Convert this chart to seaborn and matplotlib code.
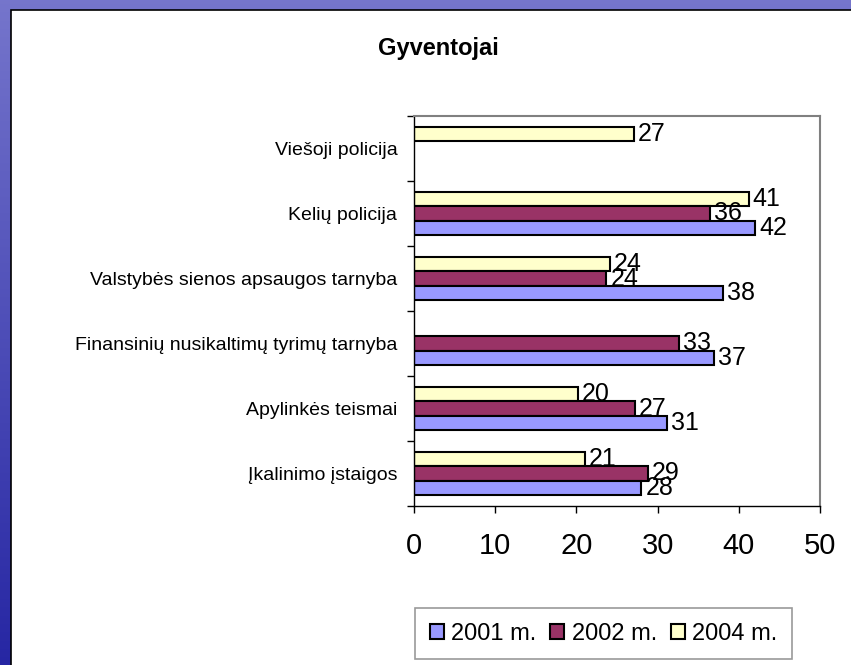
import numpy as np
import pandas as pd
import matplotlib
matplotlib.use("Agg")
import matplotlib.pyplot as plt
import seaborn as sns
from matplotlib.patches import Rectangle

# categories top to bottom
categories = [
    "Viešoji policija",
    "Kelių policija",
    "Valstybės sienos apsaugos tarnyba",
    "Finansinių nusikaltimų tyrimų tarnyba",
    "Apylinkės teismai",
    "Įkalinimo įstaigos",
]
years = ["2001 m.", "2002 m.", "2004 m."]

# NaN = no bar for that year
values_2001 = [np.nan, 42.0, 38.0, 36.9, 31.1, 28.0]
values_2002 = [np.nan, 36.4, 23.7, 32.6, 27.2, 28.8]
values_2004 = [27.1, 41.2, 24.1, np.nan, 20.2, 21.0]

colors = {"2001 m.": "#9999FF", "2002 m.": "#993366", "2004 m.": "#FFFFCC"}

rows = []
for year, vals in zip(years, [values_2001, values_2002, values_2004]):
    for cat, v in zip(categories, vals):
        if not np.isnan(v):
            rows.append({"category": cat, "year": year, "value": v})
df = pd.DataFrame(rows)

sns.set_style("white")
plt.rcParams["font.family"] = ["Liberation Sans", "DejaVu Sans"]
plt.rcParams["text.color"] = "black"
plt.rcParams["xtick.color"] = "black"
plt.rcParams["ytick.color"] = "black"

W, H = 851, 665
fig = plt.figure(figsize=(W / 100, H / 100), dpi=100)

# blue gradient background with white panel
bg = fig.add_axes([0, 0, 1, 1], zorder=-10)
grad = np.linspace(0, 1, 256).reshape(-1, 1)
top = np.array([0.46, 0.46, 0.80])
bot = np.array([0.15, 0.15, 0.64])
img = top[None, None, :] * (1 - grad[..., None]) + bot[None, None, :] * grad[..., None]
bg.imshow(img, aspect="auto", extent=[0, 1, 0, 1])
bg.add_patch(Rectangle((11 / W, -0.01), 1, 1 - 10 / H + 0.01, facecolor="white",
                       edgecolor="black", linewidth=1.2))
bg.set_xlim(0, 1)
bg.set_ylim(0, 1)
bg.axis("off")

ax = fig.add_axes([414 / W, 1 - 506 / H, (820 - 414) / W, (506 - 116) / H])
sns.barplot(data=df, x="value", y="category", hue="year", order=categories,
            hue_order=["2004 m.", "2002 m.", "2001 m."], palette=colors,
            orient="h", width=0.67, saturation=1, edgecolor="black",
            linewidth=1.5, legend=False, ax=ax, errorbar=None)

for cont in ax.containers:
    ax.bar_label(cont, fmt="%.0f", padding=3, fontsize=18, color="black")

ax.set_xlim(0, 50)
ax.set_ylim(5.5, -0.5)
ax.set_xticks(range(0, 51, 10))
ax.tick_params(axis="x", length=5, width=1, direction="out", labelsize=21, pad=14,
               bottom=True)
ax.set_yticks(range(len(categories)))
ax.set_yticks(np.arange(-0.5, len(categories)), minor=True)
ax.tick_params(axis="y", which="major", length=0, labelsize=14, pad=12)
ax.tick_params(axis="y", which="minor", length=5, width=1, direction="out", left=True)
ax.set_xlabel("")
ax.set_ylabel("")
for side in ["left", "bottom"]:
    ax.spines[side].set_color("black")
    ax.spines[side].set_linewidth(1)
for side in ["top", "right"]:
    ax.spines[side].set_color("#808080")
    ax.spines[side].set_linewidth(1.5)

fig.text(438 / W, 1 - 48 / H, "Gyventojai", ha="center", va="center",
         fontsize=17, fontweight="bold", color="black")

handles = [Rectangle((0, 0), 1, 1, facecolor=colors[y], edgecolor="black", linewidth=1.5)
           for y in years]
leg = fig.legend(handles, years, loc="center", bbox_to_anchor=(603.5 / W, 1 - 633.5 / H),
                 ncol=3, fontsize=17, frameon=True, fancybox=False, shadow=False,
                 handlelength=0.6, handleheight=0.6, handletextpad=0.3,
                 columnspacing=0.6, borderpad=0.6)
leg.get_frame().set_edgecolor("#808080")
leg.get_frame().set_linewidth(1.2)
for t in leg.get_texts():
    t.set_color("black")

fig.savefig("out.png", dpi=100)
